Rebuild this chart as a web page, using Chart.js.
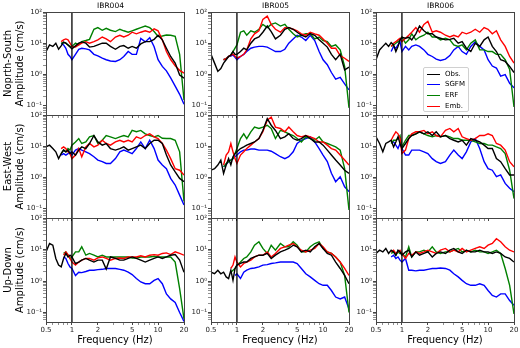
<!DOCTYPE html>
<html>
<head>
<meta charset="utf-8">
<script src="https://cdn.jsdelivr.net/npm/chart.js@4"></script>
<style>
  html, body { margin: 0; padding: 0; background: #fff; overflow: hidden; }
  #fig { position: relative; width: 520px; height: 348px; }
  #fig canvas { position: absolute; }
  .ptitle { position: absolute; top: 0; width: 60px; text-align: center; font-family: "DejaVu Sans"; font-size: 7.5px; line-height: 11px; color: #000; }
  .legend { position: absolute; left: 423px; top: 67px; width: 44px; height: 43px; border: 1px solid #d0d0d0; border-radius: 2px; background: rgba(255,255,255,0.85); font-family: "DejaVu Sans"; font-size: 7px; color: #000; z-index: 10; }
  .legend .row { position: absolute; left: 0; width: 44px; height: 11px; line-height: 11px; white-space: nowrap; }
  .legend .swatch { position: absolute; left: 3px; top: 5px; width: 13px; border-top: 1.4px solid; }
  .legend .text { position: absolute; left: 21px; }
</style>
</head>
<body>
<div id="fig"></div>
<script>
// frequency grid (Hz) shared by all spectra
const FREQ = [0.5, 0.55, 0.6, 0.65, 0.7, 0.75, 0.8, 0.85, 0.9, 0.95, 1.0, 1.1, 1.2, 1.3, 1.45, 1.6, 1.8, 2.0, 2.25, 2.5,
              2.8, 3.2, 3.6, 4.0, 4.5, 5.0, 5.6, 6.3, 7.1, 8.0, 9.0, 10, 11.2, 12.5, 14, 15.8, 17.8, 20];

const X_TICKS = [0.5, 1, 2, 5, 10, 20];
const X_TICK_LABELS = ["0.5", "1", "2", "5", "10", "20"];
const X_MINOR = [0.6, 0.7, 0.8, 0.9, 3, 4, 6, 7, 8, 9];
const Y_TICKS = [0.1, 1, 10, 100];
const Y_TICK_LABELS = ["10⁻¹", "10⁰", "10¹", "10²"];
const Y_MINOR = [0.06, 0.07, 0.08, 0.09, 0.2, 0.3, 0.4, 0.5, 0.6, 0.7, 0.8, 0.9,
                 2, 3, 4, 5, 6, 7, 8, 9, 20, 30, 40, 50, 60, 70, 80, 90];

const STATIONS = ["IBR004", "IBR005", "IBR006"];
const COMPONENTS = [["Noprth-South", "Amplitude (cm/s)"], ["East-West", "Amplitude (cm/s)"], ["Up-Down", "Amplitude (cm/s)"]];
const SERIES_LABELS = ["Obs.", "SGFM", "ERF", "Emb."];
const SERIES_COLORS = ["#000000", "#0000ff", "#008000", "#ff0000"];
const DRAW_ORDER = [0, 3, 2, 1];
const REF_FREQ = [1, 1];
const REF_AMP = [0.05, 100];

// North-South
const NS_004_OBS = [5.4,8.8,7.9,10,6.4,8.2,10.8,10,8.8,7.5,6.6,8.2,10,11,10,7.5,7.9,8.8,10,10,7.9,6.4,7.9,8.4,6.9,7.9,6.9,9.5,11.2,11.2,13.3,18,12.8,6.9,3.75,2.3,0.95,0.76];
const NS_004_SGFM = [null,null,null,null,null,10,8.8,6.9,4.4,3.75,2.95,4.4,6.4,6.9,6.6,6.1,4.4,3.9,3.3,2.95,2.7,2.6,2.95,3.75,5.4,4.4,4.4,14.2,11,15,7.7,2.95,1.8,1.3,0.77,0.42,0.23,0.11];
const NS_004_ERF = [null,null,null,null,null,10,10.5,10,8.8,7.9,7.9,10,8.8,11.2,12.2,13.3,28,31.6,26,30,26,23.6,28,25,22.5,25,28,31.6,35.5,31.6,23.6,16.5,17,18.3,18,16.5,4.4,0.15];
const NS_004_EMB = [null,null,null,null,null,11.2,12.8,13.7,12.8,10,7.9,7.5,8.8,10,11.2,10,11.2,12.8,15.8,13.7,11.2,15.8,18,15.8,18,22.5,20,22.5,25,22.5,29,25,12.8,5.4,3,1.9,1.35,1.1];

const NS_005_OBS = [4.4,2.3,1.25,1.55,2.3,2.95,3.75,4.2,5.4,4.4,4.4,5.4,6.9,6.1,10,13.7,15.8,22.5,35.5,23.6,13.7,18,28,31.6,28,22.5,18,15.8,20.5,18,12.8,10,7.5,4.4,2.95,4.4,1.4,1.7];
const NS_005_SGFM = [null,null,null,null,2.95,3.2,3.75,3.9,4.2,3.5,2.95,3.75,4.4,5.4,6.9,7.5,7.9,7.9,7.5,6.4,5.4,5.4,6.4,10,13.7,18,15.8,12.2,18,12.2,5.4,2.95,2.05,1.15,0.7,0.8,0.5,0.32];
const NS_005_ERF = [null,null,null,null,2.95,3.2,3.75,4.2,5.4,6.9,8.8,22.5,25,18,25,22.5,28,40,31.6,40,44.6,35.5,40,28,20,15.8,18,20,20,13.7,15.8,12.2,11.2,7.9,8.8,6.1,1.8,0.085];
const NS_005_EMB = [null,null,null,null,2.95,3.2,3.75,4.2,4.4,3.9,3.3,3.75,4.4,6.1,13.7,20,25,58,74,40,28,22.5,31.6,31.6,28,25,20,18,22.5,20,18,13.7,10,6.9,6.9,4.0,3.3,2.6];

const NS_006_OBS = [2.95,6.1,7.9,10,7.9,10.5,8.8,5.4,7.9,12.8,15.5,14.4,15.5,12.8,20,35.5,25,20,20,15.8,14.4,12.8,13.3,14.4,10,11.2,6.9,5.4,10,7.9,12.8,15.8,7.9,5.4,2.95,2.6,1.8,1.15];
const NS_006_SGFM = [null,null,null,null,null,5.4,7.9,6.9,8.8,11.2,5.4,7.9,6.1,7.9,8.8,7.9,6.1,4.4,3.75,3.1,2.8,3.1,4.0,6.1,7.9,5.4,4.4,7.9,11.2,7.9,6.1,2.95,1.85,1.6,0.88,0.98,0.52,0.37];
const NS_006_ERF = [null,null,null,null,null,7.9,8.8,10,11.2,12.8,15.8,10,12.8,20,12.8,15.8,18,22.5,15.8,15.8,12.8,14.4,12.8,8.8,7.9,8.8,6.1,10,12.8,6.1,6.1,5.4,5.4,4.4,4.4,2.95,1.45,0.09];
const NS_006_EMB = [null,null,null,null,null,7.9,10,11.2,12.8,14.4,11.2,14.4,18,22.5,31.6,22.5,40,50,22.5,25,22.5,18,15.8,18,15.8,22.5,20,22.5,28,22.5,31.6,28,20,25,12.8,7.9,3.75,2.3];

// East-West
const EW_004_OBS = [9.5,10.8,8.4,6.6,4.0,5.8,7.5,6.6,7.5,5.8,6.6,5.2,7.5,9.5,8.4,12.2,22,13.7,10.8,12.2,8.4,7.5,8.4,9.5,7.5,8.4,9.5,10.8,8.4,12.2,15.5,15.5,12.2,5.2,2.5,1.5,0.93,0.73];
const EW_004_SGFM = [null,null,null,null,null,5.2,5.8,5.2,5.8,6.6,5.2,7.5,8.4,7.5,6.6,5.8,4.6,3.6,3.2,2.8,2.8,4.0,6.6,7.5,6.6,5.8,8.4,13.7,8.4,15.5,8.4,3.6,2.5,1.9,0.93,0.57,0.27,0.13];
const EW_004_ERF = [null,null,null,null,null,5.8,7.5,6.6,8.4,7.5,10.8,13.7,17.6,12.2,13.7,20,22,12.2,15.5,22,20,17.6,20,22,20,32,29,32,25,22,20,22,18,17.6,17.6,15.5,6.6,0.17];
const EW_004_EMB = [null,null,null,null,null,8.4,9.5,8.4,6.6,5.8,4.0,5.2,8.4,4.6,9.5,12.2,9.5,10.8,15.5,12.2,10.8,13.7,15.5,13.7,15.5,13.7,20,17.6,22,25,20,17.6,12.2,7.5,4.0,1.9,1.7,1.2];

const EW_005_OBS = [1.7,1.9,2.5,3.6,1.35,2.5,4.0,2.5,4.6,5.8,6.6,8.4,9.5,10.8,12.2,13.7,17.6,32,76,47,32,17.6,20,25,17.6,15.5,17.6,22,17.6,13.7,13.7,10.8,7.5,5.2,3.6,2.5,1.7,1.35];
const EW_005_SGFM = [null,null,null,null,2.2,2.6,3.2,3.6,4.0,4.6,5.2,6.6,7.5,7.5,8.1,8.1,7.5,7.5,7.5,6.9,5.8,4.6,4.0,4.6,6.6,12.2,15.5,17.6,20,13.7,8.4,5.2,3.2,1.35,0.73,1.05,0.5,0.35];
const EW_005_ERF = [null,null,null,null,2.2,2.8,3.2,3.6,4.0,5.8,8.4,17.6,25,17.6,29,41,37,41,47,37,17.6,32,29,25,22,17.6,13.7,20,17.6,15.5,20,13.7,12.2,10.8,9.5,7.5,1.9,0.09];
const EW_005_EMB = [null,null,null,null,2.5,5.2,6.6,12.2,6.6,4.0,2.8,5.2,6.6,8.4,10.8,13.7,17.6,29,68,86,41,37,29,41,29,22,20,22,20,17.6,13.7,13.7,10.8,8.4,7.5,5.2,3.6,2.5];

const EW_006_OBS = [20,12.2,6.6,12.2,13.7,15.5,9.5,13.7,20,12.2,8.4,12.2,17.6,22,25,29,25,29,22,29,20,22,17.6,15.5,13.7,15.5,10.8,17.6,15.5,13.7,10.8,8.4,8.4,4.0,3.2,1.9,1.2,1.2];
const EW_006_SGFM = [null,null,null,null,null,13.7,13.7,10.8,8.4,12.2,8.4,5.2,5.2,7.5,7.5,7.5,6.6,5.8,4.0,3.2,2.8,3.2,5.2,7.5,5.2,4.0,6.6,13.7,17.6,8.4,3.2,1.9,1.7,1.05,1.2,0.64,0.45,0.35];
const EW_006_ERF = [null,null,null,null,null,12.2,15.5,15.5,17.6,22,9.5,15.5,22,22,25,29,25,22,20,22,20,22,20,17.6,17.6,15.5,15.5,15.5,13.7,12.2,12.2,10.8,10.8,9.5,8.4,5.8,1.7,0.21];
const EW_006_EMB = [null,null,null,null,null,15.5,22,29,25,17.6,5.8,7.5,17.6,25,29,29,32,25,29,22,20,32,37,29,37,20,17.6,15.5,17.6,22,22,25,22,12.2,10.8,7.5,3.2,2.2];

// Up-Down
const UD_004_OBS = [8.4,15.5,13.7,5.2,3.2,2.8,5.2,7.5,5.8,6.6,5.8,3.6,4.0,4.6,5.2,4.6,4.0,4.6,4.6,2.4,5.8,5.2,4.6,4.6,5.2,5.8,5.2,4.6,4.0,4.6,5.2,5.8,5.2,5.8,6.6,6.9,4.6,1.9];
const UD_004_SGFM = [null,null,null,null,null,null,5.8,5.2,3.6,2.8,2.5,1.5,1.9,1.85,2.0,2.2,2.2,2.3,2.35,2.5,2.5,2.5,2.35,2.2,1.9,1.6,1.2,0.93,0.82,0.82,1.05,1.2,0.82,0.39,0.27,0.21,0.10,0.052];
const UD_004_ERF = [null,null,null,null,null,null,7.5,8.4,6.6,5.2,5.8,8.4,8.4,12.2,6.6,7.5,6.6,5.8,6.6,5.8,5.8,5.8,5.8,5.8,5.8,5.4,5.4,5.8,5.8,5.8,6.1,5.8,5.8,5.8,5.8,4.0,0.57,0.063];
const UD_004_EMB = [null,null,null,null,null,null,6.6,8.4,6.9,5.2,4.0,3.2,4.0,4.6,5.2,5.2,4.6,5.4,5.8,5.2,4.6,5.2,5.4,5.2,5.8,5.8,5.8,6.3,5.8,6.6,6.9,6.6,7.5,7.8,6.9,8.4,7.5,6.6];

const UD_005_OBS = [1.9,1.7,2.2,1.7,1.9,1.35,1.2,2.2,1.05,2.5,3.2,3.6,4.0,4.0,5.2,5.8,6.6,6.6,7.5,5.2,6.6,8.4,9.5,10.8,13.7,12.2,8.4,9.5,8.4,12.2,15.5,10.8,7.5,6.6,4.0,2.5,1.5,0.82];
const UD_005_SGFM = [null,null,null,null,null,null,null,null,null,1.5,1.7,1.2,1.9,2.2,2.5,2.6,2.8,3.2,3.3,3.6,3.75,4.0,4.0,4.0,4.0,3.6,2.5,1.7,1.35,1.05,0.82,0.73,0.73,0.5,0.31,0.27,0.31,0.13];
const UD_005_ERF = [null,null,null,null,null,null,null,1.9,2.2,2.5,3.2,4.0,5.2,5.8,8.4,13.7,17.6,10.8,7.5,13.7,9.5,15.5,12.2,12.2,17.6,13.7,8.4,8.4,12.2,15.5,17.6,10.8,8.4,7.5,5.8,4.0,1.5,0.10];
const UD_005_EMB = [null,null,null,null,null,null,null,2.5,3.2,5.8,4.0,2.8,3.6,4.0,4.6,5.8,6.6,6.6,8.4,5.8,7.5,10.8,12.2,13.7,15.5,12.2,9.5,8.4,9.5,10.8,15.5,12.2,8.4,7.5,5.8,4.0,2.5,1.5];

const UD_006_OBS = [7.5,9.5,8.4,10.8,7.5,9.5,8.4,6.6,9.5,8.4,6.6,8.4,9.5,5.8,8.4,6.6,7.5,8.4,5.8,7.5,8.4,7.5,9.5,10.8,8.4,7.5,9.5,8.4,8.4,9.5,8.4,8.4,7.5,8.4,7.5,5.8,5.2,4.0];
const UD_006_SGFM = [null,null,null,null,null,5.8,6.6,5.2,5.8,4.6,4.0,5.2,2.2,2.2,2.1,2.2,2.2,2.35,2.5,2.5,2.6,2.5,2.2,1.7,1.35,1.05,0.82,0.73,0.73,0.82,0.73,0.5,0.35,0.31,0.39,0.39,0.24,0.17];
const UD_006_ERF = [null,null,null,null,null,7.5,8.4,6.6,8.4,7.5,7.5,5.8,12.2,5.8,8.4,8.4,9.5,8.4,12.2,8.4,7.5,8.4,8.4,9.5,10.8,8.4,9.5,8.4,9.5,8.4,8.4,7.5,8.4,9.5,7.5,2.5,0.73,0.09];
const UD_006_EMB = [null,null,null,null,null,8.4,9.5,7.5,8.4,9.5,7.5,5.2,7.5,6.6,8.4,7.5,8.4,9.5,8.4,7.5,9.5,10.8,8.4,9.5,8.4,10.8,8.4,9.5,10.8,12.2,10.8,13.7,15.5,22,17.6,12.2,9.5,8.4];

const PANELS = [
    [[NS_004_OBS, NS_004_SGFM, NS_004_ERF, NS_004_EMB], [NS_005_OBS, NS_005_SGFM, NS_005_ERF, NS_005_EMB], [NS_006_OBS, NS_006_SGFM, NS_006_ERF, NS_006_EMB]],
    [[EW_004_OBS, EW_004_SGFM, EW_004_ERF, EW_004_EMB], [EW_005_OBS, EW_005_SGFM, EW_005_ERF, EW_005_EMB], [EW_006_OBS, EW_006_SGFM, EW_006_ERF, EW_006_EMB]],
    [[UD_004_OBS, UD_004_SGFM, UD_004_ERF, UD_004_EMB], [UD_005_OBS, UD_005_SGFM, UD_005_ERF, UD_005_EMB], [UD_006_OBS, UD_006_SGFM, UD_006_ERF, UD_006_EMB]]
];

// figure geometry
const COL_LEFT = [46, 211, 376];
const ROW_TOP = [12, 115, 218];
const ROW_H = [103, 103, 104];
const PLOT_W = 138;
const PAD_TOP = 6;
const PAD_RIGHT = 8;
const FONT = "DejaVu Sans";

const fig = document.querySelector("#fig");

const frame = {
    id: "frame",
    afterDraw(chart) {
        const { ctx, chartArea: a } = chart;
        ctx.save();
        ctx.strokeStyle = "#444";
        ctx.lineWidth = 1;
        ctx.strokeRect(Math.round(a.left) + 0.5, Math.round(a.top) + 0.5, Math.round(a.right - a.left), Math.round(a.bottom - a.top));
        ctx.restore();
    }
};

function sortedTicks(major, minor) {
    return [...major, ...minor].sort((a, b) => a - b).map((v) => ({ value: v }));
}

function buildPanel(r, c) {
    const yW = c === 0 ? 46 : 30;
    const xH = r === 2 ? 26 : 3;
    const padB = r === 2 ? 0 : 3;
    const w = yW + PLOT_W + PAD_RIGHT;
    const h = PAD_TOP + ROW_H[r] + xH + padB;

    const canvas = document.createElement("canvas");
    canvas.width = w;
    canvas.height = h;
    canvas.style.left = (COL_LEFT[c] - yW) + "px";
    canvas.style.top = (ROW_TOP[r] - PAD_TOP) + "px";
    canvas.style.width = w + "px";
    canvas.style.height = h + "px";
    fig.appendChild(canvas);

    const datasets = PANELS[r][c].map((vals, k) => ({
        label: SERIES_LABELS[k],
        data: FREQ.map((f, i) => ({ x: f, y: vals[i] })),
        borderColor: SERIES_COLORS[k],
        borderWidth: 1.4,
        pointRadius: 0,
        tension: 0,
        order: DRAW_ORDER[k]
    }));

    datasets.push({
        label: "1 Hz",
        data: REF_FREQ.map((f, i) => ({ x: f, y: REF_AMP[i] })),
        borderColor: "#000",
        borderWidth: 1.3,
        pointRadius: 0,
        order: -1
    });

    return new Chart(canvas, {
        type: "line",
        data: { datasets },
        options: {
            responsive: false,
            animation: false,
            events: [],
            layout: { padding: { top: PAD_TOP, right: PAD_RIGHT, bottom: padB, left: 0 } },
            plugins: { legend: { display: false }, tooltip: { enabled: false } },
            scales: {
                x: {
                    type: "logarithmic",
                    min: 0.5,
                    max: 20,
                    afterBuildTicks: (s) => { s.ticks = sortedTicks(X_TICKS, X_MINOR); },
                    afterFit: (s) => { s.height = xH; },
                    ticks: {
                        display: r === 2,
                        autoSkip: false,
                        maxRotation: 0,
                        padding: 1,
                        color: "#222",
                        font: { family: FONT, size: 7 },
                        callback: (v) => {
                            const i = X_TICKS.indexOf(v);
                            return i >= 0 ? X_TICK_LABELS[i] : "";
                        }
                    },
                    grid: {
                        drawOnChartArea: false,
                        tickLength: 3,
                        color: "#444",
                        tickWidth: (ctx) => (ctx.tick && X_TICKS.includes(ctx.tick.value) ? 1 : 0.6)
                    },
                    border: { display: false },
                    title: {
                        display: r === 2,
                        text: "Frequency (Hz)",
                        color: "#000",
                        font: { family: FONT, size: 10, lineHeight: 1.15 },
                        padding: { top: 0, bottom: 2.25 }
                    }
                },
                y: {
                    type: "logarithmic",
                    min: 0.05,
                    max: 100,
                    afterBuildTicks: (s) => { s.ticks = sortedTicks(Y_TICKS, Y_MINOR); },
                    afterFit: (s) => { s.width = yW; },
                    ticks: {
                        autoSkip: false,
                        padding: 1,
                        color: "#222",
                        font: { family: FONT, size: 7 },
                        callback: (v) => {
                            const i = Y_TICKS.indexOf(v);
                            return i >= 0 ? Y_TICK_LABELS[i] : "";
                        }
                    },
                    grid: {
                        drawOnChartArea: false,
                        tickLength: 3,
                        color: "#444",
                        tickWidth: (ctx) => (ctx.tick && Y_TICKS.includes(ctx.tick.value) ? 1 : 0.6)
                    },
                    border: { display: false },
                    title: {
                        display: c === 0,
                        text: COMPONENTS[r],
                        color: "#000",
                        font: { family: FONT, size: 10, lineHeight: 1.15 },
                        padding: { top: 3, bottom: 0 }
                    }
                }
            }
        },
        plugins: [frame]
    });
}

for (let r = 0; r < 3; r++) {
    for (let c = 0; c < 3; c++) {
        buildPanel(r, c);
    }
}

// station titles
STATIONS.forEach((name, c) => {
    const t = document.createElement("div");
    t.className = "ptitle";
    t.textContent = name;
    t.style.left = (COL_LEFT[c] + PLOT_W / 2 - 4.5 - 30) + "px";
    fig.appendChild(t);
});

// legend in the top-right panel
const legend = document.createElement("div");
legend.className = "legend";
SERIES_LABELS.forEach((label, k) => {
    const row = document.createElement("div");
    row.className = "row";
    row.style.top = (0.5 + k * 10.8) + "px";
    const sw = document.createElement("span");
    sw.className = "swatch";
    sw.style.borderTopColor = SERIES_COLORS[k];
    const tx = document.createElement("span");
    tx.className = "text";
    tx.textContent = label;
    row.appendChild(sw);
    row.appendChild(tx);
    legend.appendChild(row);
});
fig.appendChild(legend);
</script>
</body>
</html>
